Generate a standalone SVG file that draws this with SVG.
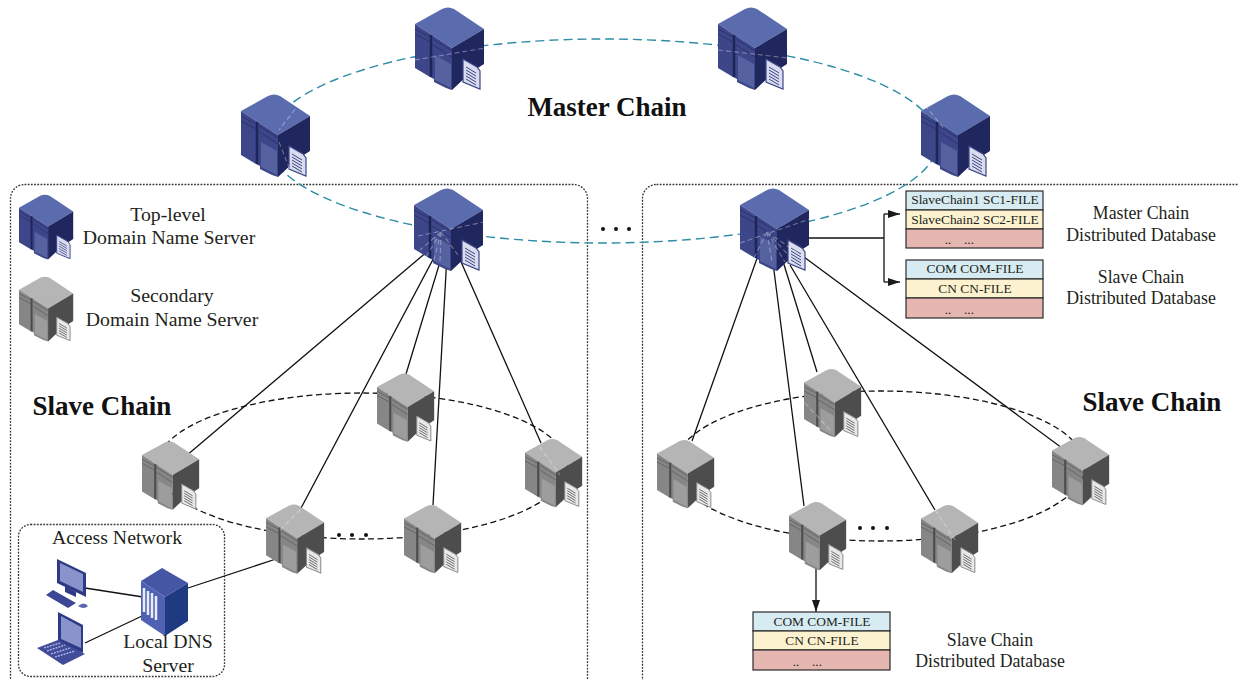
<svg xmlns="http://www.w3.org/2000/svg" width="1239" height="680" viewBox="0 0 1239 680">
<style>
text{font-family:"Liberation Serif","Times New Roman",serif;fill:#231f20;text-anchor:middle}
.lbl{font-size:17.8px}
.lg{font-size:19.800px}
.ttl{font-size:27px;font-weight:bold;fill:#111}
.cell{font-size:13.400px}
.frame{fill:none;stroke:#333;stroke-width:1.3;stroke-dasharray:1.8 1.4}
.ring{fill:none;stroke:#2d8ca6;stroke-width:1.4;stroke-dasharray:9 5}
.sring{fill:none;stroke:#111;stroke-width:1.3;stroke-dasharray:6 3.5}
.ln{fill:none;stroke:#111;stroke-width:1.3}
.ghost{fill:none;stroke:#fff;stroke-opacity:.35;stroke-width:1.1;stroke-dasharray:5 3}
.tb{stroke:#2b2b2b;stroke-width:1.2}
.a{fill:#d6ebf2}.b{fill:#fdf2cf}.c{fill:#e6b6b1}
</style>
<defs>
<marker id="arr" markerWidth="12" markerHeight="9" refX="12" refY="4" orient="auto" markerUnits="userSpaceOnUse"><path d="M0 0L12 4L0 8Z" fill="#1a1a1a"/></marker>
<symbol id="blue" viewBox="0 0 70 82" overflow="visible">
<path d="M0 17L27 2Q33-1 39 2L69 22L37 41Z" fill="#5a6cae"/>
<path d="M0 17L37 41V83L31 81L19 75V72L15 70L0 61Z" fill="#3c4688"/>
<path d="M37 41L69 22V57L55 66L53 68L37 83Z" fill="#20265e"/>
<path d="M16 28V70" stroke="#1e2559" stroke-width="2.5"/>
<path d="M0 22L15 30M0 27L15 35M18 32L37 44M18 38L37 50" stroke="#2b3370" stroke-width="1" fill="none"/>
<path d="M20 48L36 57V81L20 73Z" fill="#5661a0"/>
<path d="M48 52L62 60L65 64V82L48 75Z" fill="#d9dcec" stroke="#3c4688" stroke-width="1.2"/>
<path d="M51 60L61 66M51 63L61 69M51 66L61 72M51 69L61 75M51 72L61 78" stroke="#3c4688" stroke-width="1"/>
</symbol>
<symbol id="grey" viewBox="0 0 70 82" overflow="visible">
<path d="M0 17L27 2Q33-1 39 2L69 22L37 41Z" fill="#b5b5b5"/>
<path d="M0 17L37 41V83L31 81L19 75V72L15 70L0 61Z" fill="#868686"/>
<path d="M37 41L69 22V57L55 66L53 68L37 83Z" fill="#4d4d4d"/>
<path d="M16 28V70" stroke="#4a4a4a" stroke-width="2.5"/>
<path d="M0 22L15 30M0 27L15 35M18 32L37 44M18 38L37 50" stroke="#5e5e5e" stroke-width="1" fill="none"/>
<path d="M20 48L36 57V81L20 73Z" fill="#9d9d9d"/>
<path d="M48 52L62 60L65 64V82L48 75Z" fill="#e8e8e8" stroke="#8a8a8a" stroke-width="1.2"/>
<path d="M51 60L61 66M51 63L61 69M51 66L61 72M51 69L61 75M51 72L61 78" stroke="#555" stroke-width="1"/>
</symbol>
</defs>
<g id="frames">
<rect class="frame" x="10.500" y="184.500" width="577" height="520" rx="14"/>
<rect class="frame" x="642.500" y="184.500" width="620" height="520" rx="14"/>
<rect class="frame" x="18.500" y="524.500" width="206" height="152" rx="12"/>
</g>
<g id="connectors">
<ellipse class="ring" cx="603" cy="141" rx="335" ry="102"/>
<ellipse class="sring" cx="362" cy="466" rx="205" ry="73"/>
<ellipse class="sring" cx="880" cy="466" rx="205" ry="75"/>
<path class="ln" d="M435 245L186 456M438 250L300 510M443 252L406 374M447 255L433 505M458 255L541 443"/>
<path class="ln" d="M760 250L692 441M772 255L804 506M782 258L817 372M790 265L935 510M804 257L1062 448"/>
<path class="ln" d="M797 238H884"/>
<path class="ln" d="M884 214V282"/>
<path class="ln" d="M884 214H900" marker-end="url(#arr)"/>
<path class="ln" d="M884 282H900" marker-end="url(#arr)"/>
<path class="ln" d="M816 568V612" marker-end="url(#arr)"/>
<path class="ln" d="M85 588L143 597M85 643L142 616M188 588L279 558"/>
</g>
<g id="top1"><use href="#blue" x="241" y="94" width="70" height="82"/></g>
<g id="top2"><use href="#blue" x="415" y="7" width="70" height="82"/></g>
<g id="top3"><use href="#blue" x="718" y="7" width="70" height="82"/></g>
<g id="top4"><use href="#blue" x="921" y="94" width="70" height="82"/></g>
<g id="top5"><use href="#blue" x="414" y="188" width="70" height="82"/></g>
<g id="top6"><use href="#blue" x="740" y="188" width="70" height="82"/></g>
<g id="sec1"><use href="#grey" x="142" y="440" width="58" height="70"/></g>
<g id="sec2"><use href="#grey" x="266" y="504" width="59" height="69"/></g>
<g id="sec3"><use href="#grey" x="377" y="372" width="58" height="70"/></g>
<g id="sec4"><use href="#grey" x="404" y="504" width="58" height="69"/></g>
<g id="sec5"><use href="#grey" x="525" y="438" width="58" height="69"/></g>
<g id="sec6"><use href="#grey" x="657" y="439" width="58" height="69"/></g>
<g id="sec7"><use href="#grey" x="789" y="501" width="58" height="69"/></g>
<g id="sec8"><use href="#grey" x="804" y="368" width="58" height="69"/></g>
<g id="sec9"><use href="#grey" x="921" y="504" width="58" height="69"/></g>
<g id="sec10"><use href="#grey" x="1052" y="436" width="58" height="69"/></g>
<g id="ghost-lines">
<path class="ghost" d="M441 232L420 250M441 232L426 257M441 232L434 260M441 232L440 263M441 232L458 255M418 236L484 222"/>
<path class="ghost" d="M767 232L752 262M767 232L772 262M767 232L785 262M767 232L795 262M767 232L804 257M740 243L810 219"/>
<path class="ghost" d="M415 60L485 48M718 50L788 58M279 142L290 170M300 103L279 130M925 105L945 130M280 530L305 505M935 510L955 540M805 403L830 430M535 440L560 475"/>
</g>
<g id="legend-top"><use href="#blue" x="19" y="194" width="55" height="65"/>
<text class="lg" x="168" y="221">Top-level</text><text class="lg" x="169" y="244">Domain Name Server</text></g>
<g id="legend-sec"><use href="#grey" x="19" y="276" width="55" height="65"/>
<text class="lg" x="172" y="302">Secondary</text><text class="lg" x="172" y="326">Domain Name Server</text></g>
<g id="titles">
<text class="ttl" x="607" y="116">Master Chain</text>
<text class="ttl" x="102" y="415">Slave Chain</text>
<text class="ttl" x="1152" y="411">Slave Chain</text>
</g>
<g id="dots" fill="#111">
<circle cx="603" cy="229" r="2"/><circle cx="616" cy="229" r="2"/><circle cx="629" cy="229" r="2"/>
<circle cx="339" cy="535" r="2"/><circle cx="352" cy="535" r="2"/><circle cx="366" cy="535" r="2"/>
<circle cx="860" cy="528" r="2"/><circle cx="873" cy="528" r="2"/><circle cx="887" cy="528" r="2"/>
</g>
<g id="db-master">
<rect class="tb a" x="906" y="191" width="137" height="19"/><rect class="tb b" x="906" y="210" width="137" height="19"/><rect class="tb c" x="906" y="229" width="137" height="19"/>
<text class="cell" x="975" y="204">SlaveChain1 SC1-FILE</text><text class="cell" x="975" y="224">SlaveChain2 SC2-FILE</text><text class="cell" x="948" y="244">..</text><text class="cell" x="969" y="244">...</text>
<text class="lbl" x="1141" y="219">Master Chain</text><text class="lbl" x="1141" y="241">Distributed Database</text>
</g>
<g id="db-slave-right">
<rect class="tb a" x="906" y="260" width="137" height="19"/><rect class="tb b" x="906" y="279" width="137" height="19"/><rect class="tb c" x="906" y="298" width="137" height="20"/>
<text class="cell" x="975" y="273">COM COM-FILE</text><text class="cell" x="975" y="293">CN CN-FILE</text><text class="cell" x="948" y="314">..</text><text class="cell" x="969" y="314">...</text>
<text class="lbl" x="1141" y="283">Slave Chain</text><text class="lbl" x="1141" y="304">Distributed Database</text>
</g>
<g id="db-slave-bottom">
<rect class="tb a" x="753" y="612" width="137" height="19"/><rect class="tb b" x="753" y="631" width="137" height="19"/><rect class="tb c" x="753" y="650" width="137" height="20"/>
<text class="cell" x="822" y="626">COM COM-FILE</text><text class="cell" x="822" y="645">CN CN-FILE</text><text class="cell" x="796" y="666">..</text><text class="cell" x="817" y="666">...</text>
<text class="lbl" x="990" y="646">Slave Chain</text><text class="lbl" x="990" y="667">Distributed Database</text>
</g>
<g id="desktop">
<path d="M57 559L86 573V597L57 583Z" fill="#2f3a87"/><path d="M60 563L83 574V592L60 581Z" fill="#8a93cc"/>
<path d="M65 586L76 592V597L65 592Z" fill="#2f3a87"/>
<path d="M46 595L53 590L76 603L68 608Z" fill="#3c4794"/><path d="M78 606Q84 601 88 606Q84 610 78 606Z" fill="#5a66ad"/>
</g>
<g id="laptop">
<path d="M58 612L83 625V653L58 642Z" fill="#2f3a87"/><path d="M61 616L81 627V648L61 639Z" fill="#8a93cc"/>
<path d="M37 648L58 640L85 654L63 665Z" fill="#414c9b"/>
<path d="M44 648L60 643M47 651L65 645M51 654L70 648M55 657L75 651" stroke="#b9bfe4" stroke-width="1.300" stroke-dasharray="2 1"/>
</g>
<g id="local-dns">
<path d="M141 581L162 568L188 583L165 597Z" fill="#4556a5"/>
<path d="M141 581L165 597V636L141 620Z" fill="#4f61b2"/>
<path d="M165 597L188 583V621L165 636Z" fill="#1f3a80"/>
<path d="M144 588V612M148 591V615M152 593V618M156 596V620" stroke="#e9edfa" stroke-width="2.500"/>
</g>
<g id="access">
<text class="lg" x="117" y="544">Access Network</text>
<text class="lg" x="168" y="648">Local DNS</text><text class="lg" x="168" y="672">Server</text>
</g>
</svg>
